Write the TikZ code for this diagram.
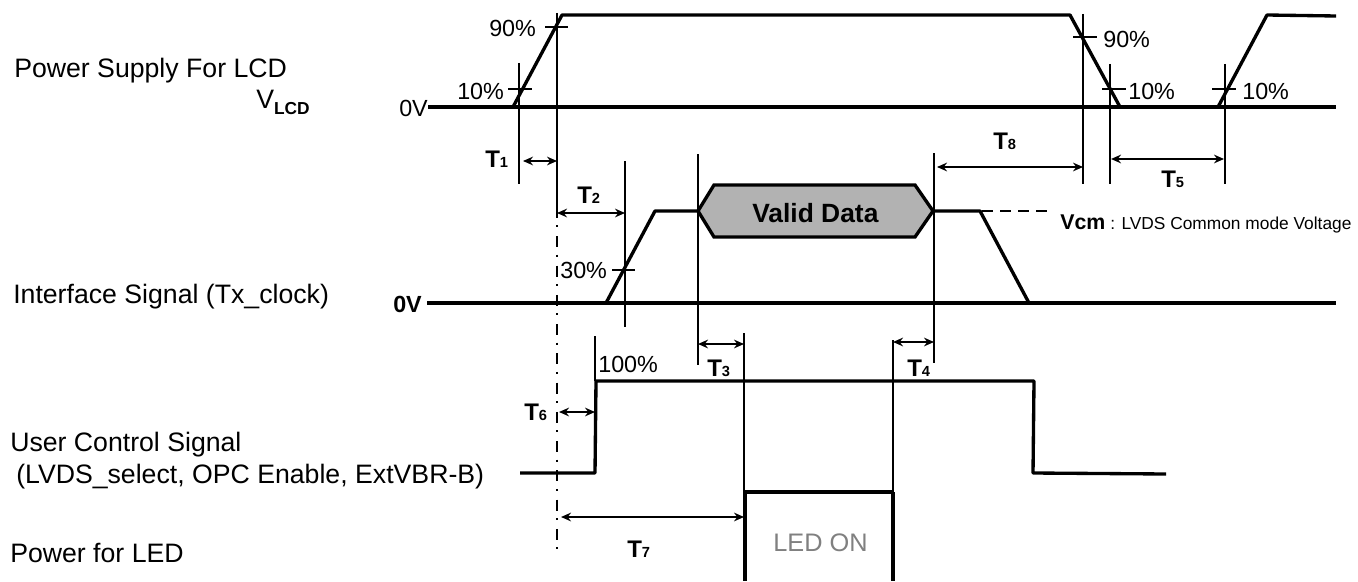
\documentclass[tikz,border=0pt]{standalone}
\usepackage{fontspec}
\setmainfont{Liberation Sans}
\usetikzlibrary{arrows.meta}
\newcommand{\tlab}[1]{\fontsize{18}{18}\selectfont\bfseries T\fontsize{11}{12}\selectfont #1}

\begin{document}
\begin{tikzpicture}[>={Stealth[length=7.5pt,width=6.5pt]}, x=0.75pt, y=-0.75pt,
    sig/.style={line width=2.5pt},
    mrk/.style={line width=1.9pt},
    dim/.style={line width=1.4pt, <->},
    lab/.style={anchor=base west, inner sep=0pt, font=\fontsize{20}{20}\selectfont},
    pct/.style={anchor=base west, inner sep=0pt, font=\fontsize{17.5}{18}\selectfont},
    tl/.style={anchor=base west, inner sep=0pt}]
        \useasboundingbox (0, 0) rectangle (1358, 581);
        % left labels
        \node[lab] (lcd) at (14, 78) {Power Supply For LCD};
        \node[lab] (vlcd) at (256, 109) {V\raisebox{-4.5pt}{\fontsize{13}{13}\selectfont\bfseries LCD}};
        \node[lab] (iface) at (13, 303) {Interface Signal (Tx\_clock)};
        \node[lab] (user) at (10, 451) {User Control Signal};
        \node[lab] (lvds) at (16, 483) {(LVDS\_select, OPC Enable, ExtVBR-B)};
        \node[lab] (led) at (10, 562) {Power for LED};
        % power supply
        \node[pct] (zero) at (399, 117) {0V};
        \draw[sig] (428, 107) -- (1336, 107);
        \draw[sig, line join=bevel] (513, 107) -- (562, 15) -- (1070, 15) -- (1120, 107);
        \draw[sig, line join=bevel] (1218, 107) -- (1267, 15) -- (1336, 16);
        \draw[mrk] (519, 63) -- (519, 184);
        \draw[mrk] (557, 13) -- (557, 207);
        \draw[mrk] (1083, 14) -- (1083, 184);
        \draw[mrk] (1110, 64) -- (1110, 184);
        \draw[mrk] (1225, 64) -- (1225, 184);
        \draw[mrk] (545, 27) -- (568, 27);
        \draw[mrk] (508, 89) -- (532, 89);
        \draw[mrk] (1073, 37) -- (1097, 37);
        \draw[mrk] (1102, 89) -- (1126, 89);
        \draw[mrk] (1212, 89) -- (1236, 89);
        \node[pct] (ninety) at (489, 37) {90\%};
        \node[pct] (ten) at (457, 100) {10\%};
        \node[pct] (ninetyb) at (1103, 48) {90\%};
        \node[pct] (tenb) at (1128, 100) {10\%};
        \node[pct] (tenc) at (1242, 100) {10\%};
        % interface signal
        \node[lab, font=\fontsize{17.5}{18}\selectfont\bfseries] (zerob) at (393, 312) {0V};
        \draw[sig] (427, 303) -- (1336, 303);
        \draw[sig, line join=bevel] (606, 303) -- (655, 211) -- (698, 211);
        \draw[sig, line join=bevel] (934, 211) -- (980, 211) -- (1029, 303);
        \draw[dash pattern=on 8pt off 5.5pt, line width=1.5pt] (982, 211) -- (1049, 211);
        \draw[sig, fill={rgb,255:red,178;green,178;blue,178}] (698, 211) -- (714, 185) -- (915, 185)
            -- (933, 211) -- (915, 237) -- (714, 237) -- cycle;
        \node[lab, font=\fontsize{19.8}{20}\selectfont\bfseries] (valid) at (752, 222) {Valid Data};
        \draw[mrk] (625, 161) -- (625, 327);
        \draw[mrk] (698, 154) -- (698, 365);
        \draw[mrk] (934, 153) -- (934, 363);
        \draw[mrk] (612, 270) -- (635, 270);
        \node[pct] (thirty) at (560, 278) {30\%};
        \node[tl] (vcm) at (1060, 229) {\fontsize{16}{16}\selectfont\bfseries Vcm};
        \node[tl] (vcmtxt) at (1110, 229) {\fontsize{13}{13}\selectfont : LVDS Common mode Voltage};
        % user control signal
        \draw[sig, line join=bevel] (520, 473) -- (595, 473) -- (596, 381) -- (1034, 381)
            -- (1033, 473) -- (1166, 474);
        \draw[mrk] (595, 336) -- (595, 381);
        \node[pct] (hundred) at (598, 372) {100\%};
        % led
        \draw[mrk] (744, 333) -- (744, 492);
        \draw[mrk] (893, 340) -- (893, 492);
        \draw[sig] (745, 492) -- (745, 581);
        \draw[sig] (893, 492) -- (893, 581);
        \draw[sig] (745, 492) -- (893, 492);
        \node[lab, font=\fontsize{19}{20}\selectfont, text={rgb,255:red,128;green,128;blue,128}] (ledon) at (773, 551) {LED ON};
        % reference line
        \draw[mrk, dash pattern=on 8.25pt off 5.6pt on 1.5pt off 6.6pt] (557, 207) -- (557, 558);
        % intervals
        \draw[dim] (523, 161) -- (557, 161);
        \node[tl] (tone) at (485, 167) {\tlab{1}};
        \draw[dim] (557, 213) -- (625, 213);
        \node[tl] (ttwo) at (577, 203) {\tlab{2}};
        \draw[dim] (698, 344) -- (744, 344);
        \node[tl] (tthree) at (707, 376) {\tlab{3}};
        \draw[dim] (893, 342) -- (934, 342);
        \node[tl] (tfour) at (907, 376) {\tlab{4}};
        \draw[dim] (1111, 159) -- (1224, 159);
        \node[tl] (tfive) at (1161, 187) {\tlab{5}};
        \draw[dim] (559, 412) -- (595, 412);
        \node[tl] (tsix) at (524, 420) {\tlab{6}};
        \draw[dim] (561, 517) -- (744, 517);
        \node[tl] (tseven) at (627, 557) {\tlab{7}};
        \draw[dim] (937, 167) -- (1083, 167);
        \node[tl] (teight) at (993, 149) {\tlab{8}};
    \end{tikzpicture}
\end{document}
